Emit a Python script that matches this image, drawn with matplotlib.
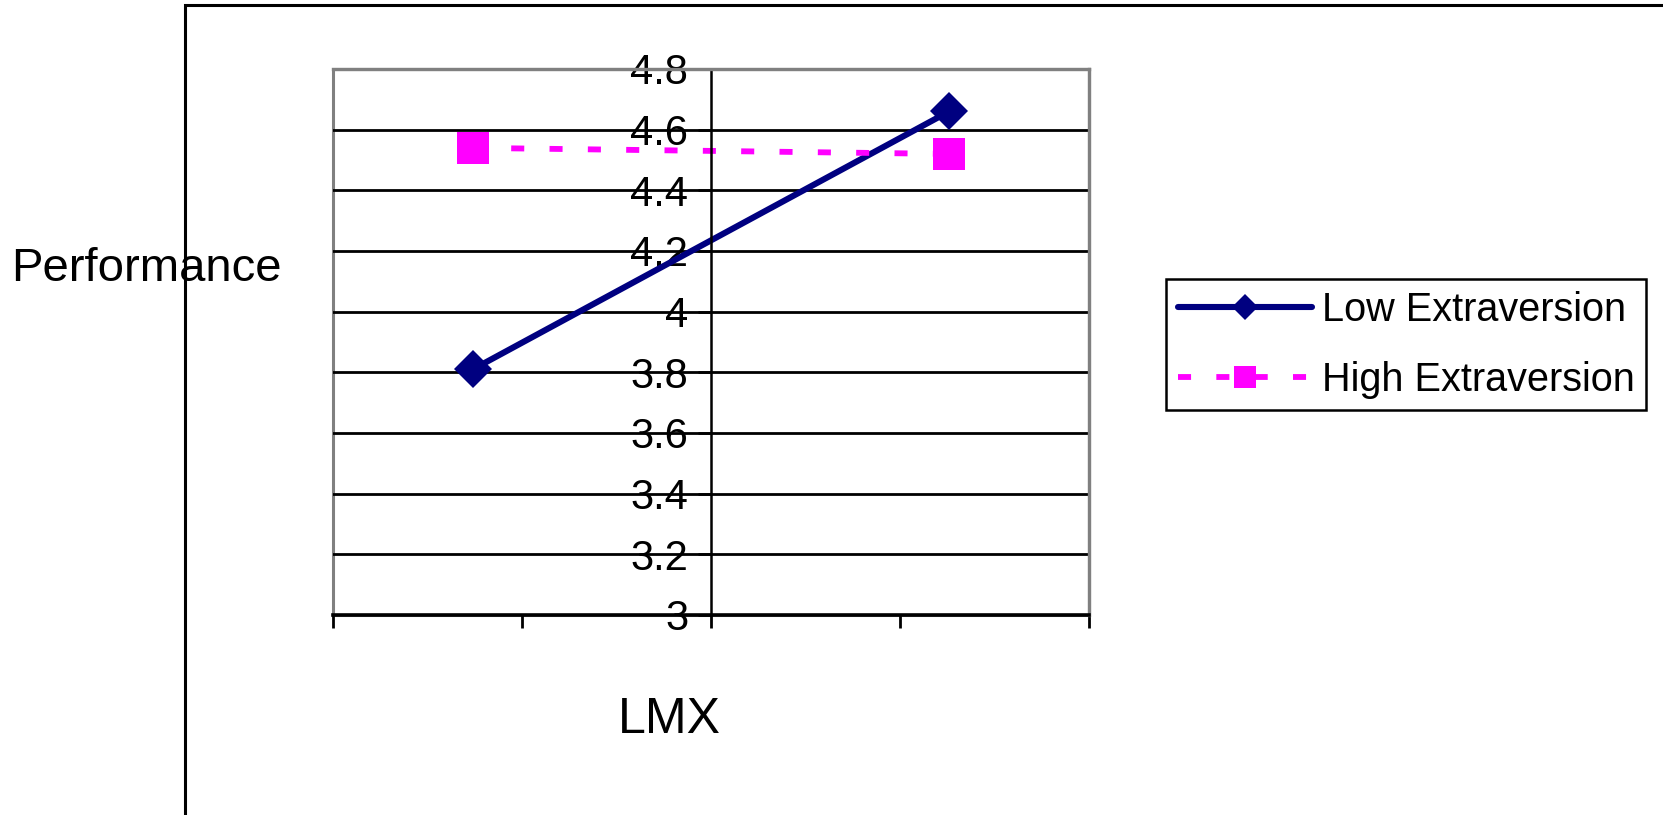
import matplotlib
matplotlib.use("Agg")
import matplotlib.pyplot as plt
from matplotlib.patches import Rectangle

plt.rcParams['font.family'] = ['Liberation Sans', 'DejaVu Sans']
plt.rcParams['lines.scale_dashes'] = False

# Simple slopes: performance at low / high LMX
lmx = [-1.26, 1.26]
low_extraversion = [3.81, 4.66]
high_extraversion = [4.54, 4.52]
series_names = ["Low Extraversion", "High Extraversion"]

y_ticks = [3.0, 3.2, 3.4, 3.6, 3.8, 4.0, 4.2, 4.4, 4.6, 4.8]
y_labels = ["3", "3.2", "3.4", "3.6", "3.8", "4", "4.2", "4.4", "4.6", "4.8"]
x_ticks = [-2, -1, 0, 1, 2]

W, H = 1663, 815
fig = plt.figure(figsize=(W / 100, H / 100), dpi=100)

# outer chart border (runs off the right and bottom)
fig.add_artist(Rectangle((185 / W, -0.1), 1.2, 1.1 - 5 / H, transform=fig.transFigure,
                         fill=False, edgecolor="black", linewidth=2.2, clip_on=False))

ax = fig.add_axes([333 / W, 1 - 615 / H, (1089 - 333) / W, (615 - 69) / H])

# plot area frame in grey
ax.patch.set_edgecolor("#808080")
ax.patch.set_linewidth(2.2)
for side in ["top", "right"]:
    ax.spines[side].set_color("#808080")
    ax.spines[side].set_linewidth(2.4)
ax.spines["left"].set_position(("data", 0))
ax.spines["left"].set_color("black")
ax.spines["left"].set_linewidth(1.8)
ax.spines["bottom"].set_color("black")
ax.spines["bottom"].set_linewidth(2.6)

ax.yaxis.grid(True, color="black", linewidth=2.0)
ax.set_axisbelow("line")

ax.plot(lmx, low_extraversion, color="#000080", linewidth=4.4, solid_capstyle="round",
        marker="D", markersize=19, markeredgewidth=0, label=series_names[0])
ax.plot(lmx, high_extraversion, color="#FF00FF", linewidth=4.2, linestyle=(0, (9.4, 18.2)),
        dash_capstyle="butt", marker="s", markersize=23, markeredgewidth=0,
        label=series_names[1])

ax.set_xlim(-2, 2)
ax.set_ylim(3, 4.8)
ax.set_xticks(x_ticks)
ax.set_xticklabels([])
ax.set_yticks(y_ticks)
ax.set_yticklabels(y_labels)
ax.tick_params(axis="x", direction="out", length=9.4, width=2, color="black")
ax.tick_params(axis="y", direction="out", length=9.4, width=1.8, color="black",
               pad=7, labelsize=30)

fig.text(11 / W, 1 - 281 / H, "Performance", fontsize=34, ha="left", va="baseline")
fig.text(669 / W, 1 - 733 / H, "LMX", fontsize=36, ha="center", va="baseline")

leg = ax.legend(loc="upper left", bbox_to_anchor=(1166 / W, 1 - 279 / H),
                bbox_transform=fig.transFigure, borderaxespad=0, fontsize=28.5,
                frameon=True, fancybox=False, framealpha=1, edgecolor="black",
                handlelength=3.38, handletextpad=0.25, borderpad=0.3,
                labelspacing=0.8, markerscale=0.72)
leg.get_frame().set_linewidth(1.8)

fig.savefig("out.png", dpi=100)
